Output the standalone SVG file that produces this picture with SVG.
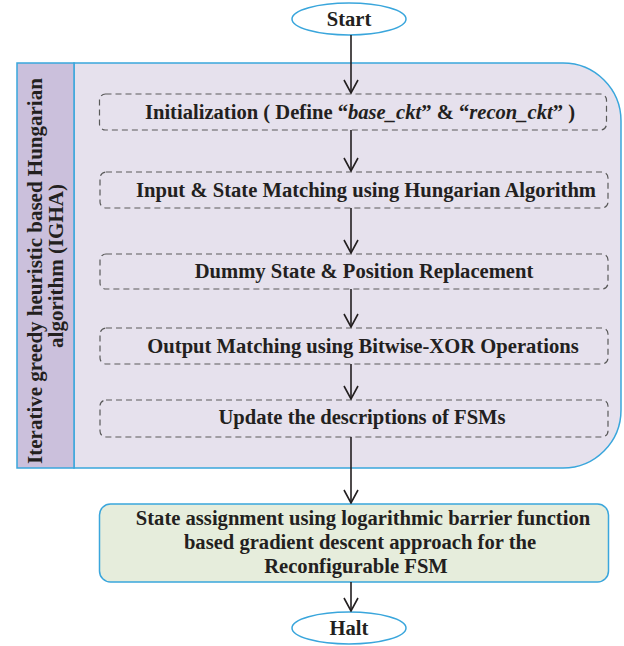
<svg xmlns="http://www.w3.org/2000/svg" width="624" height="646" viewBox="0 0 624 646">
  <defs>
    <style>
      .lbl { font-family: "Liberation Serif", "Times New Roman", serif; font-weight: bold; font-size: 20.6px; fill: #231f20; text-anchor: middle; dominant-baseline: central; }
      .side { font-size: 21px; }
      .term { fill: #ffffff; stroke: #3aa6dc; stroke-width: 1.5; }
      .step { fill: none; stroke: #5a5a5a; stroke-width: 1.2; stroke-dasharray: 6 4; }
      .wire { stroke: #231f20; stroke-width: 1.6; fill: none; }
    </style>
    <!-- open V arrowhead, drawn along +x so orient="auto" points it down the line -->
    <marker id="arrow" viewBox="0 0 15 16" refX="14" refY="8" markerWidth="15" markerHeight="16" markerUnits="userSpaceOnUse" orient="auto">
      <path d="M1,1 L14,8 L1,15" fill="none" stroke="#231f20" stroke-width="1.6"/>
    </marker>
  </defs>

  <rect width="624" height="646" fill="#ffffff"/>

  <!-- IGHA container -->
  <g id="igha">
    <path d="M74,63 H563 A58,58 0 0 1 621,121 V410 A58,58 0 0 1 563,468 H74 Z" fill="#e6e1ed" stroke="#3aa6dc" stroke-width="1.5"/>
    <rect x="17" y="63" width="57" height="405" fill="#cbc0dc" stroke="#3aa6dc" stroke-width="1.5"/>
    <text class="lbl side" transform="translate(35,271) rotate(-90)">Iterative greedy heuristic based Hungarian</text>
    <text class="lbl side" transform="translate(56,266) rotate(-90)">algorithm (IGHA)</text>
  </g>

  <g id="start">
    <ellipse class="term" cx="349" cy="19" rx="57" ry="16"/>
    <text class="lbl" x="349" y="19">Start</text>
  </g>

  <g id="init">
    <rect class="step" x="99.5" y="94" width="507" height="36" rx="6"/>
    <text class="lbl" x="360" y="112">Initialization ( Define “<tspan font-style="italic">base_ckt</tspan>” &amp; “<tspan font-style="italic">recon_ckt</tspan>” )</text>
  </g>

  <g id="match">
    <rect class="step" x="100" y="172" width="508" height="36" rx="6"/>
    <text class="lbl" x="366" y="190">Input &amp; State Matching using Hungarian Algorithm</text>
  </g>

  <g id="dummy">
    <rect class="step" x="100" y="254" width="508" height="35" rx="6"/>
    <text class="lbl" x="364" y="271">Dummy State &amp; Position Replacement</text>
  </g>

  <g id="output">
    <rect class="step" x="100" y="328" width="508" height="36" rx="6"/>
    <text class="lbl" x="363" y="346">Output Matching using Bitwise-XOR Operations</text>
  </g>

  <g id="update">
    <rect class="step" x="100" y="400" width="508" height="37" rx="6"/>
    <text class="lbl" x="362" y="417">Update the descriptions of FSMs</text>
  </g>

  <g id="assign">
    <rect x="99.5" y="504" width="509" height="78" rx="11" fill="#e6eddc" stroke="#3aa6dc" stroke-width="1.5"/>
    <text class="lbl" x="363" y="518">State assignment using logarithmic barrier function</text>
    <text class="lbl" x="360" y="542">based gradient descent approach for the</text>
    <text class="lbl" x="356" y="566">Reconfigurable FSM</text>
  </g>

  <g id="halt">
    <ellipse class="term" cx="349" cy="628" rx="57" ry="16"/>
    <text class="lbl" x="349" y="628">Halt</text>
  </g>

  <!-- connectors -->
  <g id="connectors">
    <line class="wire" x1="351" y1="35" x2="351" y2="93" marker-end="url(#arrow)"/>
    <line class="wire" x1="351" y1="130" x2="351" y2="171" marker-end="url(#arrow)"/>
    <line class="wire" x1="351" y1="208" x2="351" y2="253" marker-end="url(#arrow)"/>
    <line class="wire" x1="351" y1="289" x2="351" y2="327" marker-end="url(#arrow)"/>
    <line class="wire" x1="351" y1="364" x2="351" y2="399" marker-end="url(#arrow)"/>
    <line class="wire" x1="351" y1="437" x2="351" y2="503" marker-end="url(#arrow)"/>
    <line class="wire" x1="351" y1="582" x2="351" y2="611" marker-end="url(#arrow)"/>
  </g>
</svg>
